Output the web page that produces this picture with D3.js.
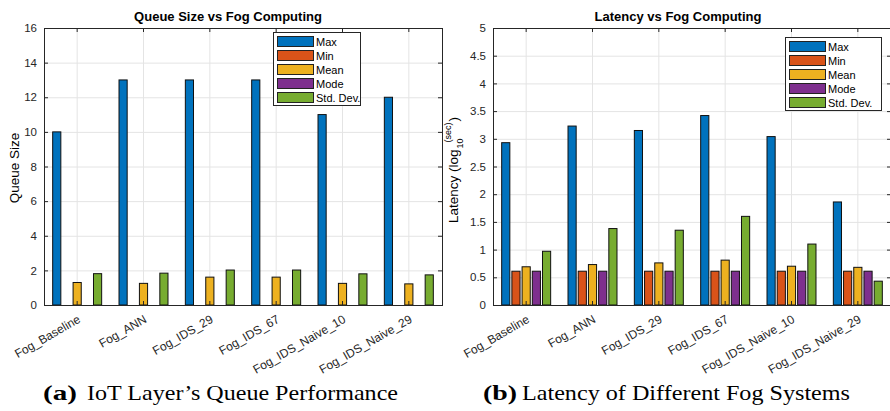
<!DOCTYPE html>
<html>
<head>
<meta charset="UTF-8">
<title>Fog Computing</title>
<script src="https://cdn.jsdelivr.net/npm/d3@7"></script>
<style>
body { margin: 0; background: #fff; }
svg { display: block; font-family: "Liberation Sans", Arial, sans-serif; }
</style>
</head>
<body>
<script>
// categories and series
var categories = ["Fog_Baseline", "Fog_ANN", "Fog_IDS_29", "Fog_IDS_67", "Fog_IDS_Naive_10", "Fog_IDS_Naive_29"];
var seriesNames = ["Max", "Min", "Mean", "Mode", "Std. Dev."];

// (a) queue size
var queueMax  = [10, 13, 13, 13, 11, 12];
var queueMin  = [0, 0, 0, 0, 0, 0];
var queueMean = [1.3, 1.25, 1.61, 1.61, 1.25, 1.22];
var queueMode = [0, 0, 0, 0, 0, 0];
var queueStd  = [1.81, 1.84, 2.02, 2.02, 1.8, 1.74];
var queueTicks = [0, 2, 4, 6, 8, 10, 12, 14, 16];

// (b) latency, log10(sec)
var latMax  = [2.93, 3.23, 3.15, 3.42, 3.04, 1.86];
var latMin  = [0.61, 0.61, 0.61, 0.61, 0.61, 0.61];
var latMean = [0.69, 0.73, 0.76, 0.81, 0.70, 0.68];
var latMode = [0.61, 0.61, 0.61, 0.61, 0.61, 0.61];
var latStd  = [0.97, 1.38, 1.35, 1.60, 1.10, 0.43];
var latTicks = [0, 0.5, 1, 1.5, 2, 2.5, 3, 3.5, 4, 4.5, 5];

var colors = ["#0072BD", "#D95319", "#EDB120", "#7E2F8E", "#77AC30"];
var axisColor = "#262626";

var svg = d3.select("body").append("svg")
  .attr("width", 890)
  .attr("height", 411);

var color = d3.scaleOrdinal().domain(seriesNames).range(colors);

function panel(cfg) {
  var g = svg.append("g");
  var x = d3.scaleBand().domain(categories).range([cfg.left, cfg.right]).padding(0);
  var groupW = x.bandwidth() * 5 / 6.5;
  var xs = d3.scaleBand().domain(seriesNames)
    .range([-groupW / 2, groupW / 2]).paddingInner(0.2).paddingOuter(0.1);
  var y = d3.scaleLinear().domain([0, cfg.ticks[cfg.ticks.length - 1]]).range([cfg.bottom, cfg.top]);
  var h = cfg.bottom - cfg.top, w = cfg.right - cfg.left;

  // grid
  g.append("g").attr("transform", "translate(0," + cfg.bottom + ")")
    .call(d3.axisBottom(x).tickSize(-h).tickFormat(""))
    .call(function(a) { a.select(".domain").remove(); })
    .selectAll("line").attr("stroke", "#e4e4e4");
  g.append("g").attr("transform", "translate(" + cfg.left + ",0)")
    .call(d3.axisLeft(y).tickValues(cfg.ticks).tickSize(-w).tickFormat(""))
    .call(function(a) { a.select(".domain").remove(); })
    .selectAll("line").attr("stroke", "#e4e4e4");

  // bars
  var rows = categories.map(function(c, i) {
    return { cat: c, vals: cfg.series.map(function(s) { return s[i]; }) };
  });
  g.selectAll("g.grp").data(rows).join("g")
    .attr("class", "grp")
    .attr("transform", function(d) { return "translate(" + (x(d.cat) + x.bandwidth() / 2) + ",0)"; })
    .selectAll("rect")
    .data(function(d) { return seriesNames.map(function(n, j) { return { name: n, v: d.vals[j] }; }); })
    .join("rect")
    .attr("x", function(d) { return xs(d.name); })
    .attr("width", xs.bandwidth())
    .attr("y", function(d) { return y(d.v); })
    .attr("height", function(d) { return y(0) - y(d.v); })
    .attr("fill", function(d) { return color(d.name); })
    .attr("stroke", "#111")
    .attr("stroke-width", 1);

  // box
  g.append("rect")
    .attr("x", cfg.left + 0.5).attr("y", cfg.top + 0.5)
    .attr("width", w).attr("height", h)
    .attr("fill", "none").attr("stroke", axisColor).attr("stroke-width", 1);

  // ticks
  var fmt = d3.format("~g");
  var yl = g.append("g").attr("transform", "translate(" + cfg.left + ",0)")
    .call(d3.axisLeft(y).tickValues(cfg.ticks).tickSize(-4).tickPadding(7).tickFormat(fmt));
  yl.select(".domain").remove();
  yl.selectAll("line").attr("stroke", axisColor);
  yl.selectAll("text").attr("fill", axisColor).style("font-size", "11.5px")
    .style("font-family", "'Liberation Sans', Arial, sans-serif");

  var yr = g.append("g").attr("transform", "translate(" + cfg.right + ",0)")
    .call(d3.axisRight(y).tickValues(cfg.ticks).tickSize(-4).tickFormat(""));
  yr.select(".domain").remove();
  yr.selectAll("line").attr("stroke", axisColor);

  var xt = g.append("g").attr("transform", "translate(0," + cfg.top + ")")
    .call(d3.axisTop(x).tickSize(-4).tickFormat(""));
  xt.select(".domain").remove();
  xt.selectAll("line").attr("stroke", axisColor);

  var xb = g.append("g").attr("transform", "translate(0," + cfg.bottom + ")")
    .call(d3.axisBottom(x).tickSize(-4));
  xb.select(".domain").remove();
  xb.selectAll("line").attr("stroke", axisColor);
  xb.selectAll("text")
    .attr("fill", axisColor)
    .attr("x", 0).attr("y", 0).attr("dy", "0.35em")
    .attr("transform", "translate(2,13) rotate(-30)")
    .style("text-anchor", "end")
    .style("font-size", "12px")
    .style("font-family", "'Liberation Sans', Arial, sans-serif");

  // baseline
  g.append("line")
    .attr("x1", cfg.left).attr("x2", cfg.right)
    .attr("y1", y(0) + 0.5).attr("y2", y(0) + 0.5)
    .attr("stroke", axisColor).attr("stroke-width", 1.2);

  // title
  g.append("text")
    .attr("x", cfg.titleX).attr("y", 21)
    .attr("text-anchor", "middle")
    .style("font-size", "13px").style("font-weight", "bold")
    .attr("fill", "#000")
    .text(cfg.title);

  // legend
  var L = cfg.legend;
  g.append("rect")
    .attr("x", L.x + 0.5).attr("y", L.y + 0.5)
    .attr("width", L.w).attr("height", L.h)
    .attr("fill", "#fff").attr("stroke", axisColor);
  var items = g.selectAll("g.leg").data(seriesNames).join("g")
    .attr("class", "leg")
    .attr("transform", function(d, i) { return "translate(" + (L.x + 4) + "," + (L.y + 4 + i * 14) + ")"; });
  items.append("rect")
    .attr("x", 0.5).attr("y", 0.5).attr("width", 36).attr("height", 10)
    .attr("fill", function(d) { return color(d); })
    .attr("stroke", "#222");
  items.append("text")
    .attr("x", 39).attr("y", 6).attr("dy", "0.35em")
    .style("font-size", "11px").attr("fill", "#000")
    .text(function(d) { return d; });

  return g;
}

var gA = panel({
  left: 44, right: 442, top: 28, bottom: 305,
  ticks: queueTicks,
  series: [queueMax, queueMin, queueMean, queueMode, queueStd],
  title: "Queue Size vs Fog Computing", titleX: 228,
  legend: { x: 273, y: 32, w: 87, h: 73 }
});
gA.append("text")
  .attr("transform", "translate(19,168) rotate(-90)")
  .attr("text-anchor", "middle")
  .style("font-size", "13.5px").attr("fill", "#000")
  .text("Queue Size");

var gB = panel({
  left: 493, right: 891, top: 28, bottom: 305,
  ticks: latTicks,
  series: [latMax, latMin, latMean, latMode, latStd],
  title: "Latency vs Fog Computing", titleX: 678,
  legend: { x: 785, y: 37, w: 96, h: 73 }
});
var yLab = gB.append("text")
  .attr("transform", "translate(458,223) rotate(-90)")
  .style("font-size", "13.5px").attr("fill", "#000");
yLab.append("tspan").text("Latency (log");
yLab.append("tspan").attr("dy", 5).attr("dx", 1).style("font-size", "9px").text("10");
yLab.append("tspan").attr("dy", -12).attr("dx", -4).style("font-size", "9px").text("(sec)");
yLab.append("tspan").attr("dy", 7).attr("dx", 1).text(")");

// captions
function caption(x0, label, rest, restX, restLen) {
  svg.append("text")
    .attr("x", x0).attr("y", 400)
    .attr("textLength", 34).attr("lengthAdjust", "spacingAndGlyphs")
    .style("font-family", "'Liberation Serif', 'Times New Roman', serif")
    .style("font-size", "22px").style("font-weight", "bold")
    .text(label);
  svg.append("text")
    .attr("x", restX).attr("y", 400)
    .attr("textLength", restLen).attr("lengthAdjust", "spacingAndGlyphs")
    .style("font-family", "'Liberation Serif', 'Times New Roman', serif")
    .style("font-size", "21px")
    .text(rest);
}
caption(43, "(a)", "IoT Layer\u2019s Queue Performance", 87, 311);
caption(483, "(b)", "Latency of Different Fog Systems", 522, 328);
</script>
</body>
</html>
